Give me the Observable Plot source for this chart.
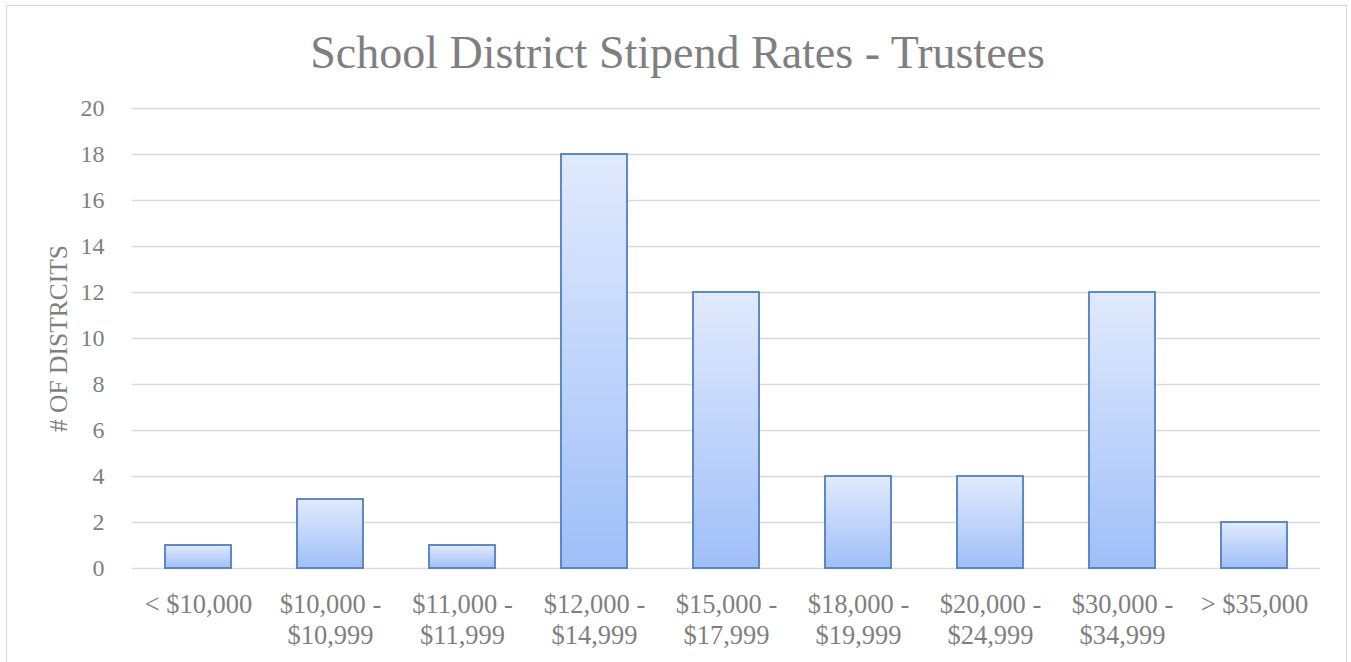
<!DOCTYPE html>
<html>
<head>
<meta charset="utf-8">
<script src="https://cdn.jsdelivr.net/npm/d3@7"></script>
<script src="https://cdn.jsdelivr.net/npm/@observablehq/plot@0.6"></script>
<style>
  html, body { margin: 0; padding: 0; background: #fff; }
  #wrap { position: relative; width: 1351px; height: 662px; overflow: hidden; }
  #border { position: absolute; left: 6px; top: 5px; width: 1341px; height: 700px; border: 1.5px solid #d9d9d9; box-sizing: border-box; }
  #chart { position: absolute; left: 0; top: 0; }
</style>
</head>
<body>
<div id="wrap"><div id="border"></div><div id="chart"></div></div>
<script>
// Stipend brackets (x axis) and number of districts in each
const categories = [
  "< $10,000",
  "$10,000 -\n$10,999",
  "$11,000 -\n$11,999",
  "$12,000 -\n$14,999",
  "$15,000 -\n$17,999",
  "$18,000 -\n$19,999",
  "$20,000 -\n$24,999",
  "$30,000 -\n$34,999",
  "> $35,000"
];
const districtCounts = [1, 3, 1, 18, 12, 4, 4, 12, 2];
const yTicks = [0, 2, 4, 6, 8, 10, 12, 14, 16, 18, 20];
const title = "School District Stipend Rates - Trustees";
const yTitle = "# OF DISTRCITS";

const rows = categories.map((c, i) => ({bracket: c, count: districtCounts[i]}));

const font = "'Liberation Serif', serif";
const gray = "#7f7f7f";

const chart = Plot.plot({
  width: 1351,
  height: 662,
  marginLeft: 132,
  marginRight: 31,
  marginTop: 108,
  marginBottom: 94,
  style: {fontFamily: font, color: gray, background: "transparent", overflow: "visible"},
  x: {domain: categories, paddingInner: 0.5, paddingOuter: 0.25, label: null},
  y: {domain: [0, 20], label: null},
  marks: [
    Plot.gridY(yTicks, {stroke: "#d9d9d9", strokeOpacity: 1, strokeWidth: 1.5}),
    Plot.axisY(yTicks, {tickSize: 0, tickPadding: 28, fontSize: 24, fill: gray, label: null}),
    Plot.axisX({tickSize: 0, tickPadding: 22, fontSize: 26.5, lineHeight: 1.18, fill: gray, label: null}),
    Plot.barY(rows, {
      x: "bracket", y: "count",
      fill: "url(#barGradient)", stroke: "#4f7fbf", strokeWidth: 1.8,
      style: "filter: drop-shadow(0px 0px 1.5px rgba(0,0,0,0.25))"
    }),
    Plot.text([title], {frameAnchor: "top", dx: -49, dy: -73, fontSize: 46, fill: gray, text: d => d}),
    Plot.text([yTitle], {frameAnchor: "left", dx: -74, rotate: -90, textAnchor: "middle", fontSize: 25.5, fill: gray, text: d => d})
  ]
});

// vertical light-to-mid blue fill used by every bar
const svg = d3.select(chart);
const grad = svg.insert("defs", ":first-child")
  .append("linearGradient")
  .attr("id", "barGradient")
  .attr("x1", 0).attr("y1", 0).attr("x2", 0).attr("y2", 1);
grad.append("stop").attr("offset", "0%").attr("stop-color", "#e1eafd");
grad.append("stop").attr("offset", "100%").attr("stop-color", "#9fbff8");

document.getElementById("chart").appendChild(chart);
</script>
</body>
</html>
